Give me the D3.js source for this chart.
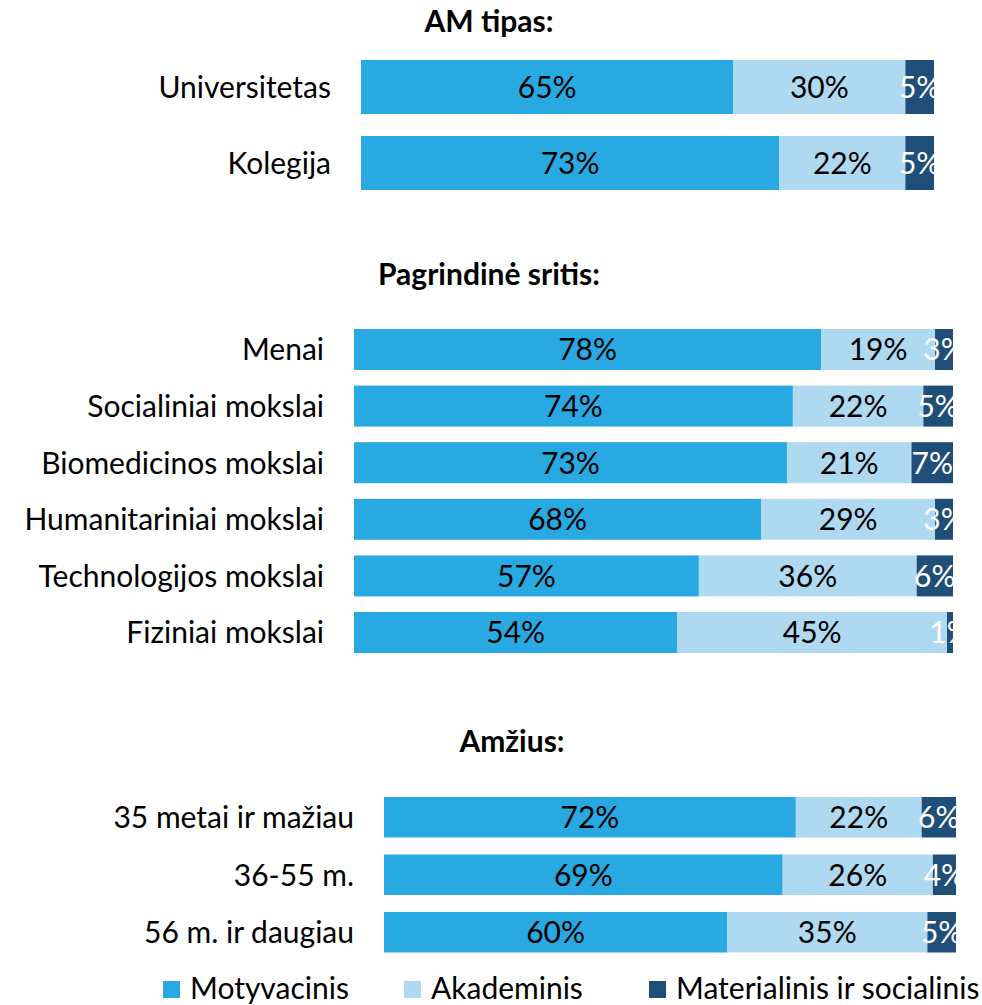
<!DOCTYPE html>
<html><head><meta charset="utf-8">
<script src="https://cdn.jsdelivr.net/npm/d3@7"></script>
<style>body{margin:0;background:#fff;} text{font-family:Lato,"Open Sans",sans-serif;}</style>
</head><body>
<svg id="c" width="982" height="1005"></svg>
<script>
const seriesNames = ["Motyvacinis", "Akademinis", "Materialinis ir socialinis"];
const colors = ["#29A9E1", "#AED9F1", "#1F4E79"];
const labelColors = ["#000", "#000", "#fff"];

const amTipasCats = ["Universitetas", "Kolegija"];
const amTipasMot = [65, 73];
const amTipasAka = [30, 22];
const amTipasMat = [5, 5];

const sritisCats = ["Menai", "Socialiniai mokslai", "Biomedicinos mokslai", "Humanitariniai mokslai", "Technologijos mokslai", "Fiziniai mokslai"];
const sritisMot = [78, 74, 73, 68, 57, 54];
const sritisAka = [19, 22, 21, 29, 36, 45];
const sritisMat = [3, 5, 7, 3, 6, 1];

const amziusCats = ["35 metai ir mažiau", "36-55 m.", "56 m. ir daugiau"];
const amziusMot = [72, 69, 60];
const amziusAka = [22, 26, 35];
const amziusMat = [6, 4, 5];

const titles = ["AM tipas:", "Pagrindinė sritis:", "Amžius:"];

const svg = d3.select("#c");
const FS = 30;

const panels = [
  {title: titles[0], tx: 489, ty: 32, cats: amTipasCats, vals: [amTipasMot, amTipasAka, amTipasMat], x0: 361, x1: 934, top: 60, step: 76, h: 54},
  {title: titles[1], tx: 489, ty: 285, cats: sritisCats, vals: [sritisMot, sritisAka, sritisMat], x0: 354, x1: 953, top: 329, step: 56.6, h: 41},
  {title: titles[2], tx: 512, ty: 752, cats: amziusCats, vals: [amziusMot, amziusAka, amziusMat], x0: 384, x1: 956, top: 797, step: 57.5, h: 40.5}
];

panels.forEach((p, pi) => {
  const rows = p.cats.map((c, i) => ({cat: c, s0: p.vals[0][i], s1: p.vals[1][i], s2: p.vals[2][i]}));
  const stack = d3.stack().keys(["s0", "s1", "s2"]).offset(d3.stackOffsetExpand);
  const stacked = stack(rows);
  const n = p.cats.length;
  const pad = (p.step - p.h) / p.step;
  const yStart = p.top - (p.step - p.h) / 2;
  const y = d3.scaleBand().domain(p.cats).range([yStart, yStart + n * p.step]).paddingInner(pad).paddingOuter(pad / 2);
  const x = d3.scaleLinear().domain([0, 1]).range([p.x0, p.x1]);

  svg.append("text").attr("x", p.tx).attr("y", p.ty).attr("text-anchor", "middle")
    .attr("font-size", FS).attr("font-weight", "bold").attr("fill", "#000").text(p.title);

  const clipId = "clip" + pi;
  svg.append("clipPath").attr("id", clipId).append("rect")
    .attr("x", p.x0).attr("y", yStart).attr("width", p.x1 - p.x0).attr("height", n * p.step);

  const g = svg.append("g");
  stacked.forEach((layer, li) => {
    g.selectAll(null).data(layer).join("rect")
      .attr("x", d => x(d[0])).attr("width", d => x(d[1]) - x(d[0]))
      .attr("y", d => y(d.data.cat)).attr("height", y.bandwidth())
      .attr("fill", colors[li]);
  });
  const lg = svg.append("g").attr("clip-path", `url(#${clipId})`);
  stacked.forEach((layer, li) => {
    lg.selectAll(null).data(layer).join("text")
      .attr("x", d => (x(d[0]) + x(d[1])) / 2)
      .attr("y", d => y(d.data.cat) + y.bandwidth() / 2)
      .attr("dy", "0.36em").attr("text-anchor", "middle")
      .attr("font-size", FS).attr("fill", labelColors[li])
      .text(d => d.data[layer.key] + "%");
  });

  svg.append("g").selectAll("text").data(p.cats).join("text")
    .attr("x", p.x0 - 30).attr("y", d => y(d) + y.bandwidth() / 2)
    .attr("dy", "0.36em").attr("text-anchor", "end")
    .attr("font-size", FS).attr("fill", "#000").text(d => d);
});

const legendX = [163, 404, 649];
const leg = svg.append("g");
seriesNames.forEach((s, i) => {
  leg.append("rect").attr("x", legendX[i]).attr("y", 981).attr("width", 17).attr("height", 17).attr("fill", colors[i]);
  leg.append("text").attr("x", legendX[i] + 27).attr("y", 999).attr("font-size", FS).attr("fill", "#000").text(s);
});
</script>
</body></html>
